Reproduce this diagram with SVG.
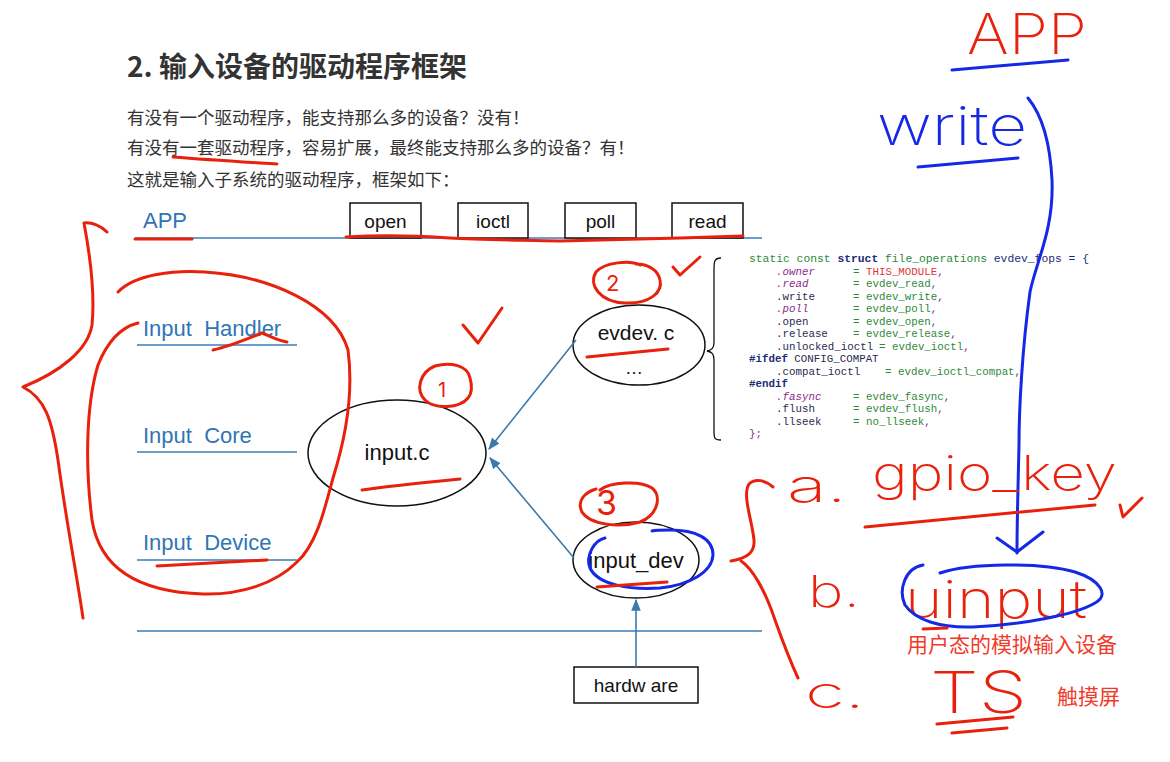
<svg xmlns="http://www.w3.org/2000/svg" width="1170" height="762" viewBox="0 0 1170 762">
<style>
.cjk{font-family:"Noto Sans CJK SC","Noto Sans",sans-serif;fill:#333}
.lbl{font-family:"Liberation Sans",Arial,sans-serif;fill:#2f75b5;font-size:22px}
.sep{stroke:#6b9dc9;stroke-width:2;fill:none}
.box{fill:#fff;stroke:#111;stroke-width:1.5}
.ell{fill:none;stroke:#111;stroke-width:1.5}
.nt{font-family:"Liberation Sans",Arial,sans-serif;fill:#111;text-anchor:middle}
.conn{stroke:#3a7aac;stroke-width:1.6;fill:none}
.code{font-family:"Liberation Mono","DejaVu Sans Mono",monospace;font-size:10.8px;fill:#2d8a3a}
.nv{fill:#1d2a78}
.b{font-weight:bold}
.pu{fill:#8a2c8c}
.it{font-style:italic}
.rd{fill:#e03535}
.dk{fill:#2a2a50}
.hw{fill:none;stroke:#e8210d;stroke-width:3;stroke-linecap:round;stroke-linejoin:round}
.hwb{fill:none;stroke:#1428e6;stroke-width:3;stroke-linecap:round;stroke-linejoin:round}
.hwt{font-family:Inter,"DejaVu Sans","Liberation Sans",sans-serif;font-weight:200;fill:#e8210d}
.hwtb{font-family:Inter,"DejaVu Sans","Liberation Sans",sans-serif;font-weight:200;fill:#1428e6}
.dg{font-weight:400}
</style>
<defs>
<marker id="arr2" viewBox="0 0 10 10" refX="9" refY="5" markerWidth="12" markerHeight="12" orient="auto" markerUnits="userSpaceOnUse">
<path d="M0,1 L10,5 L0,9 z" fill="#3a7aac"/>
</marker>
</defs>
<rect width="1170" height="762" fill="#fff"/>

<g id="heading">
<text class="cjk" x="127" y="77" font-size="28" font-weight="bold">2. 输入设备的驱动程序框架</text>
<text class="cjk" x="127" y="124" font-size="17.5">有没有一个驱动程序，能支持那么多的设备？没有！</text>
<text class="cjk" x="127" y="154" font-size="17.5">有没有一套驱动程序，容易扩展，最终能支持那么多的设备？有！</text>
<text class="cjk" x="127" y="186" font-size="17.5">这就是输入子系统的驱动程序，框架如下：</text>
</g>

<g id="layers">
<text class="lbl" x="143" y="228">APP</text>
<line class="sep" x1="135" y1="238" x2="762" y2="238"/>
<text class="lbl" x="143" y="336" xml:space="preserve">Input  Handler</text>
<line class="sep" x1="137" y1="345" x2="297" y2="345"/>
<text class="lbl" x="143" y="443" xml:space="preserve">Input  Core</text>
<line class="sep" x1="137" y1="452" x2="297" y2="452"/>
<text class="lbl" x="143" y="550" xml:space="preserve">Input  Device</text>
<line class="sep" x1="137" y1="560" x2="297" y2="560"/>
<line class="sep" x1="137" y1="631" x2="762" y2="631"/>
</g>

<g id="box-open"><rect class="box" x="350" y="203" width="71" height="35"/><text class="nt" x="385.5" y="228" font-size="19">open</text></g>
<g id="box-ioctl"><rect class="box" x="458" y="203" width="70" height="35"/><text class="nt" x="493" y="228" font-size="19">ioctl</text></g>
<g id="box-poll"><rect class="box" x="565" y="203" width="71" height="35"/><text class="nt" x="600.5" y="228" font-size="19">poll</text></g>
<g id="box-read"><rect class="box" x="672" y="203" width="71" height="35"/><text class="nt" x="707.5" y="228" font-size="19">read</text></g>

<g id="node-input-c"><ellipse class="ell" cx="397" cy="453" rx="89" ry="53"/><text class="nt" x="397" y="460" font-size="22">input.c</text></g>
<g id="node-evdev"><ellipse class="ell" cx="639" cy="345" rx="66" ry="40"/><text class="nt" x="636" y="340" font-size="21">evdev. c</text><text class="nt" x="634" y="374" font-size="18">…</text></g>
<g id="node-input-dev"><ellipse class="ell" cx="636" cy="560" rx="63" ry="38"/><text class="nt" x="636" y="568" font-size="22">input_dev</text></g>
<g id="node-hardware"><rect class="box" x="574" y="667" width="124" height="36"/><text class="nt" x="636" y="692" font-size="19" xml:space="preserve">hardw are</text></g>

<g id="connectors">
<line class="conn" x1="576" y1="340" x2="489" y2="449" marker-end="url(#arr2)"/>
<line class="conn" x1="574" y1="558" x2="490" y2="458" marker-end="url(#arr2)"/>
<line class="conn" x1="636" y1="667" x2="636" y2="600" marker-end="url(#arr2)"/>
</g>

<g id="code-block">
<path d="M721,258 C714,258 714,262 714,270 L714,342 C714,348 712,350 707,351 C712,352 714,354 714,360 L714,430 C714,438 714,440 721,440" fill="none" stroke="#111" stroke-width="1.3"/>
<text class="code" x="749" y="262" textLength="340" lengthAdjust="spacingAndGlyphs">static const <tspan class="nv b">struct</tspan> file_operations <tspan class="nv">evdev_fops = {</tspan></text>
<text class="code" y="274.5"><tspan x="776" class="pu it">.owner</tspan><tspan x="853">= </tspan><tspan class="rd">THIS_MODULE</tspan><tspan class="pu">,</tspan></text>
<text class="code" y="287"><tspan x="776" class="pu it">.read</tspan><tspan x="853">= evdev_read</tspan><tspan class="pu">,</tspan></text>
<text class="code" y="299.5"><tspan x="776" class="dk">.write</tspan><tspan x="853">= evdev_write</tspan><tspan class="pu">,</tspan></text>
<text class="code" y="312"><tspan x="776" class="pu it">.poll</tspan><tspan x="853">= evdev_poll</tspan><tspan class="pu">,</tspan></text>
<text class="code" y="324.5"><tspan x="776" class="dk">.open</tspan><tspan x="853">= evdev_open</tspan><tspan class="pu">,</tspan></text>
<text class="code" y="337"><tspan x="776" class="dk">.release</tspan><tspan x="853">= evdev_release</tspan><tspan class="pu">,</tspan></text>
<text class="code" y="349.5"><tspan x="776" class="dk">.unlocked_ioctl</tspan><tspan x="879">= evdev_ioctl</tspan><tspan class="pu">,</tspan></text>
<text class="code" y="362"><tspan x="749" class="nv b">#ifdef</tspan><tspan class="dk"> CONFIG_COMPAT</tspan></text>
<text class="code" y="374.5"><tspan x="776" class="dk">.compat_ioctl</tspan><tspan x="885">= evdev_ioctl_compat</tspan><tspan class="pu">,</tspan></text>
<text class="code" y="387"><tspan x="749" class="nv b">#endif</tspan></text>
<text class="code" y="399.5"><tspan x="776" class="pu it">.fasync</tspan><tspan x="853">= evdev_fasync</tspan><tspan class="pu">,</tspan></text>
<text class="code" y="412"><tspan x="776" class="dk">.flush</tspan><tspan x="853">= evdev_flush</tspan><tspan class="pu">,</tspan></text>
<text class="code" y="424.5"><tspan x="776" class="dk">.llseek</tspan><tspan x="853">= no_llseek</tspan><tspan class="pu">,</tspan></text>
<text class="code pu" x="749" y="437">};</text>
</g>

<g id="annotations">
<path class="hw" d="M173,157 C210,160 245,162 277,164"/>
<path class="hw" d="M107,232 C101,226 92,222 84,223 C90,255 95,295 92,325 C88,350 60,372 23,387 C45,398 52,420 58,460 C66,520 76,570 83,618"/>
<path class="hw" d="M118,292 C135,274 175,270 205,272 C270,276 335,305 348,350 C354,395 345,440 333,478 C324,512 316,545 297,562 C275,584 240,595 203,594 C140,592 100,570 92,520 C85,465 86,405 98,365 C108,340 122,327 138,323"/>
<path class="hw" d="M213,350 C228,347 245,340 262,333 C270,336 278,341 287,342"/>
<path class="hw" d="M157,566 L267,560"/>
<path class="hw" d="M135,239 L192,239"/>
<path class="hw" d="M346,237 C380,235 420,236 450,238 C480,240 520,240 560,241 C600,240 640,239 680,238 L743,236"/>
<path class="hw" d="M463,325 L478,343 L502,308"/>
<path class="hw" d="M470,378 C468,365 450,362 435,366 C420,372 415,390 425,400 C435,410 460,408 468,398 C473,392 472,385 470,378"/>
<text class="hwt dg" x="438" y="397" font-size="20">1</text>
<path class="hw" d="M362,490 C390,486 430,482 460,479"/>
<path class="hw" d="M640,265 C630,260 605,262 596,272 C588,285 600,302 625,303 C650,304 663,292 660,280 C658,270 648,264 636,264"/>
<text class="hwt dg" x="606" y="291" font-size="22">2</text>
<path class="hw" d="M673,267 L680,275 L700,257"/>
<path class="hw" d="M587,357 L668,349"/>
<path class="hw" d="M600,490 C610,482 640,480 652,488 C662,496 658,515 640,522 C620,528 590,525 582,512 C576,500 586,492 596,489"/>
<text class="hwt dg" x="596" y="515" font-size="34">3</text>
<path class="hwb" d="M605,538 C595,540 585,555 590,568 C598,585 630,590 660,588 C690,585 712,572 713,555 C713,538 695,530 670,530 C662,530 656,530 652,531"/>
<path class="hw" d="M597,587 L667,582"/>
<path class="hw" d="M773,487 C765,480 755,478 749,484 C742,495 752,520 754,540 C755,552 748,558 731,561"/>
<path class="hw" d="M741,561 C752,568 765,590 775,620 C785,648 792,665 798,678"/>
<path class="hwb" d="M952,70 L1068,60"/>
<path class="hwb" d="M918,167 L1018,158"/>
<path class="hwb" d="M1028,98 C1042,115 1050,140 1052,180 C1054,230 1036,262 1030,292 C1022,350 1019,410 1019,445 C1018,490 1017,520 1017,553"/>
<path class="hwb" d="M997,538 L1017,552 L1043,532"/>
<text class="hwt" x="967" y="54" font-size="56" textLength="120" lengthAdjust="spacingAndGlyphs">APP</text>
<text class="hwtb" x="877" y="145" font-size="54" textLength="150" lengthAdjust="spacingAndGlyphs">write</text>
<text class="hwt" x="787" y="502" font-size="46" textLength="60" lengthAdjust="spacingAndGlyphs">a.</text>
<text class="hwt" x="872" y="490" font-size="48" textLength="245" lengthAdjust="spacingAndGlyphs">gpio_key</text>
<path class="hw" d="M865,527 L1095,505"/>
<path class="hw" d="M1120,505 L1123,517 L1142,498"/>
<text class="hwt" x="808" y="607" font-size="44" textLength="52" lengthAdjust="spacingAndGlyphs">b.</text>
<text class="hwt" x="905" y="618" font-size="52" textLength="182" lengthAdjust="spacingAndGlyphs">uinput</text>
<path class="hwb" d="M940,573 C970,563 1040,562 1075,572 C1100,580 1110,595 1095,603 C1075,615 1020,625 973,627 C940,628 915,620 905,605 C898,590 905,568 923,565"/>
<path class="hw" d="M923,629 L947,628"/>
<text class="cjk" x="907" y="652" font-size="21" style="fill:#f03a2a">用户态的模拟输入设备</text>
<text class="hwt" x="805" y="708" font-size="44" textLength="60" lengthAdjust="spacingAndGlyphs">c.</text>
<text class="hwt" x="930" y="713" font-size="58" textLength="97" lengthAdjust="spacingAndGlyphs">TS</text>
<path class="hw" d="M937,724 L1013,717"/>
<path class="hw" d="M952,733 L1007,728"/>
<text class="cjk" x="1057" y="704" font-size="21" style="fill:#f03a2a">触摸屏</text>
</g>
</svg>
